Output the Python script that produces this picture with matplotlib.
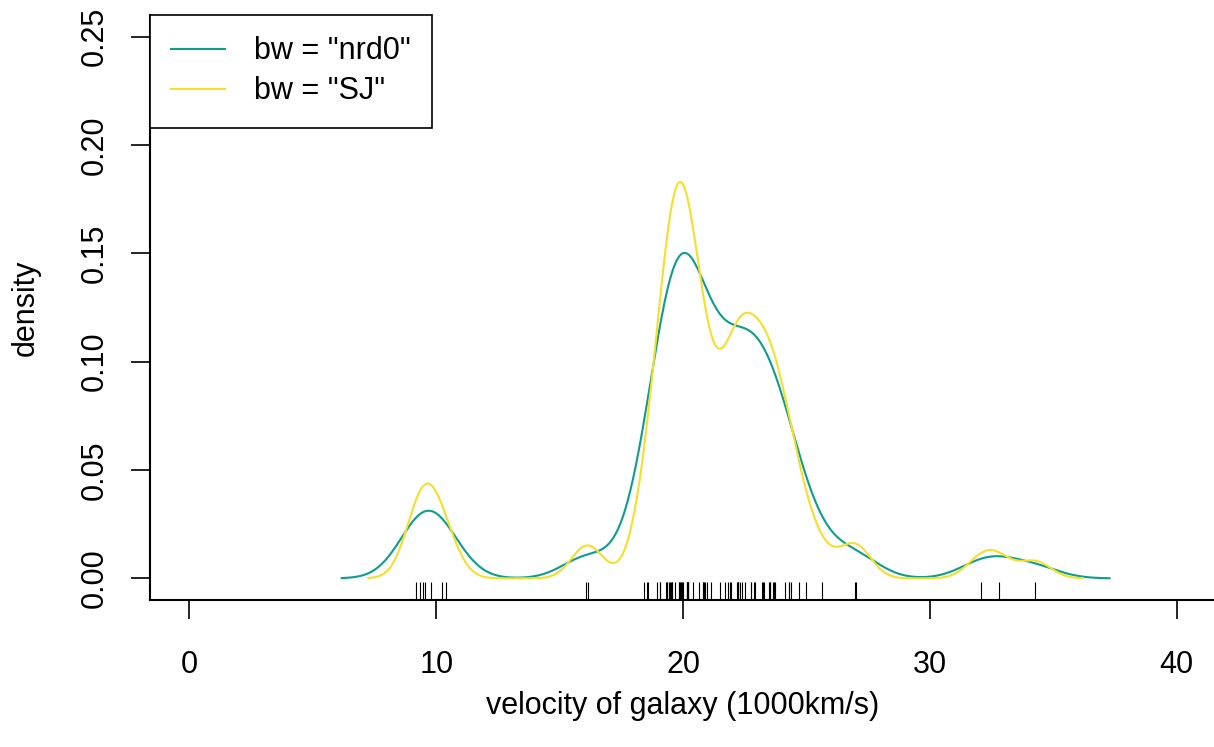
import numpy as np
import matplotlib.pyplot as plt

plt.rcParams['font.family'] = ['Liberation Sans', 'DejaVu Sans']

# velocities of 82 galaxies (km/s)
galaxies = [9172, 9350, 9483, 9558, 9775, 10227, 10406, 16084, 16170, 18419,
            18552, 18600, 18927, 19052, 19070, 19330, 19343, 19349, 19440, 19473,
            19529, 19541, 19547, 19663, 19846, 19856, 19863, 19914, 19918, 19973,
            19989, 20166, 20175, 20179, 20196, 20215, 20221, 20415, 20629, 20795,
            20821, 20846, 20875, 20986, 21137, 21492, 21701, 21814, 21921, 21960,
            22185, 22209, 22242, 22249, 22314, 22374, 22495, 22746, 22747, 22888,
            22914, 23206, 23241, 23263, 23484, 23538, 23542, 23666, 23706, 23711,
            24129, 24285, 24289, 24366, 24717, 24990, 25633, 26960, 26995, 32065,
            32789, 34279]
bw_sj = 0.64
labels = ['bw = "nrd0"', 'bw = "SJ"']
colors = ['#0e9c8e', '#f6de2c']
xticks = [0, 10, 20, 30, 40]
yticks = [0.00, 0.05, 0.10, 0.15, 0.20, 0.25]

gal = np.array(galaxies) / 1000


def bw_nrd0(x):
    q1, q3 = np.percentile(x, [25, 75])
    lo = min(np.std(x, ddof=1), (q3 - q1) / 1.34)
    return 0.9 * lo * len(x) ** -0.2


def kde(x, bw, n=512, cut=3):
    grid = np.linspace(x.min() - cut * bw, x.max() + cut * bw, n)
    z = (grid[:, None] - x[None, :]) / bw
    dens = np.exp(-0.5 * z ** 2).sum(axis=1) / (len(x) * bw * np.sqrt(2 * np.pi))
    return grid, dens


W, H = 1214, 747
fig = plt.figure(figsize=(W / 100, H / 100), dpi=100)
ax = fig.add_axes([150 / W, (H - 600) / H, 1066 / W, 585 / H])

for bw, lab, col in zip([bw_nrd0(gal), bw_sj], labels, colors):
    gx, gy = kde(gal, bw)
    ax.plot(gx, gy, color=col, lw=1.5, label=lab)

# rug along the bottom
ax.vlines(gal, 0, 0.03, transform=ax.get_xaxis_transform(), color='black', lw=0.8)

ax.set_xlim(-1.6, 41.6)
ax.set_ylim(-0.01, 0.26)
ax.set_xticks(xticks)
ax.set_xticklabels([str(t) for t in xticks])
ax.set_yticks(yticks)
ax.set_yticklabels(['%.2f' % t for t in yticks], rotation=90, va='center')
ax.tick_params(axis='both', length=13.5, width=1.2, labelsize=22, direction='out')
ax.tick_params(axis='x', pad=22.5)
ax.tick_params(axis='y', pad=15.5)

for s in ['top', 'right']:
    ax.spines[s].set_visible(False)
for s in ['left', 'bottom']:
    ax.spines[s].set_linewidth(1.5)

ax.set_xlabel('velocity of galaxy (1000km/s)', fontsize=22, labelpad=8)
ax.set_ylabel('density', fontsize=22, labelpad=28)

leg = ax.legend(loc='upper left', bbox_to_anchor=(0, 1), borderaxespad=0,
                fontsize=22, frameon=True, fancybox=False, framealpha=1,
                edgecolor='black', handlelength=1.75, handletextpad=0.95,
                borderpad=0.7, labelspacing=0.33)
leg.get_frame().set_linewidth(1.2)

fig.savefig('out.png', dpi=100)
